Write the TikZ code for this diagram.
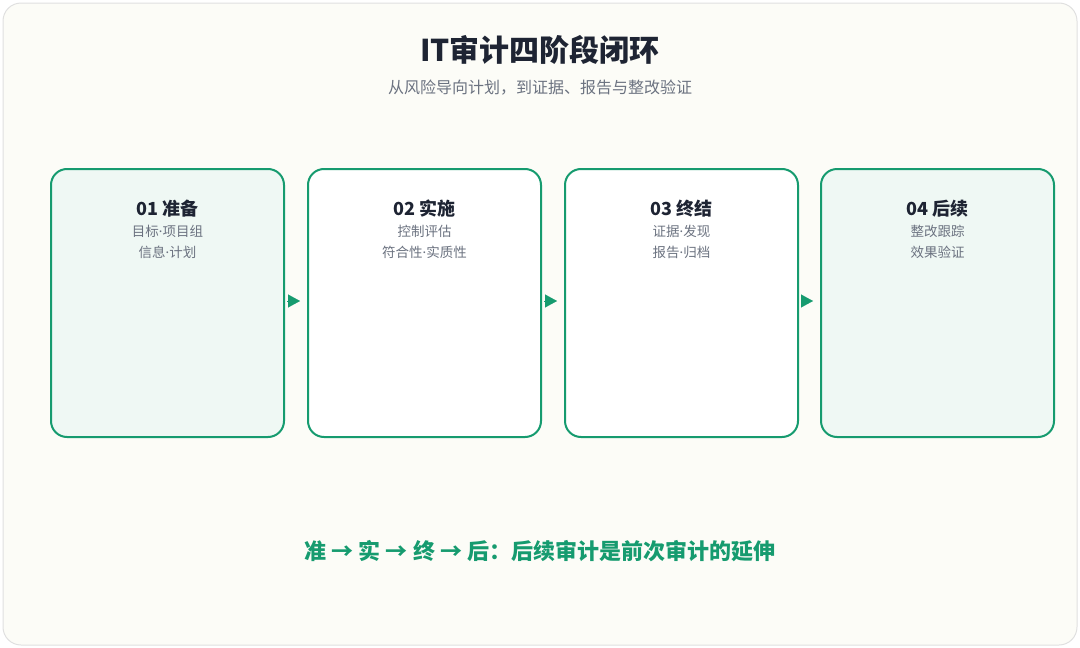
\documentclass[tikz,border=0pt]{standalone}
\usepackage{fontspec}
\setmainfont{Noto Sans CJK SC}
\newfontfamily\latinf{Noto Sans}
\newcommand{\md}{{\latinf ·}}
\usetikzlibrary{arrows.meta}
\definecolor{gr}{HTML}{169B6F}
\definecolor{lg}{HTML}{EFF8F4}
\definecolor{bg}{HTML}{FCFCF7}
\definecolor{dk}{HTML}{1E2433}
\definecolor{gy}{HTML}{6B7280}
\begin{document}
\begin{tikzpicture}[x=1pt,y=-1pt,
 box/.style={draw=gr,line width=2pt,rounded corners=16pt,minimum width=233pt,minimum height=268pt,anchor=north west,inner sep=0},
 ttl/.style={font=\fontsize{18}{20}\selectfont\bfseries,text=dk},
 sub/.style={font=\fontsize{13.5}{21}\selectfont,text=gy,align=center},
 arr/.style={-{Triangle[length=12pt,width=13pt]},draw=gr,fill=gr,line width=0.1pt,shorten <=2pt,shorten >=7pt}]
\useasboundingbox (0,0) rectangle (1080,648);
\draw[draw=black!12,fill=bg,rounded corners=18pt,line width=1pt] (3,3) rectangle (1077,645);
\node[font=\fontsize{30}{32}\selectfont\bfseries,text=dk] (t) at (540,50) {IT审计四阶段闭环};
\node[font=\fontsize{16}{18}\selectfont,text=gy] (s) at (540,88) {从风险导向计划，到证据、报告与整改验证};
\node[box,fill=lg] (b1) at (50,168) {};
\node[box,fill=white] (b2) at (307,168) {};
\node[box,fill=white] (b3) at (564,168) {};
\node[box,fill=lg] (b4) at (820,168) {};
\foreach \i/\a/\b/\c in {1/01 准备/目标\md 项目组/信息\md 计划,2/02 实施/控制评估/符合性\md 实质性,3/03 终结/证据\md 发现/报告\md 归档,4/04 后续/整改跟踪/效果验证}{
 \path (b\i.north) ++(0,41) node[ttl] (h\i) {\a};
 \path (b\i.north) ++(0,74) node[sub] (l\i) {\b\\\c};
}
\foreach \i/\j in {1/2,2/3,3/4}{\draw[arr] (b\i.east|-0,301) -- (b\j.west|-0,301);}
\node[font=\fontsize{22}{24}\selectfont\bfseries,text=gr] (f) at (540,551) {准 → 实 → 终 → 后：后续审计是前次审计的延伸};
\end{tikzpicture}
\end{document}
